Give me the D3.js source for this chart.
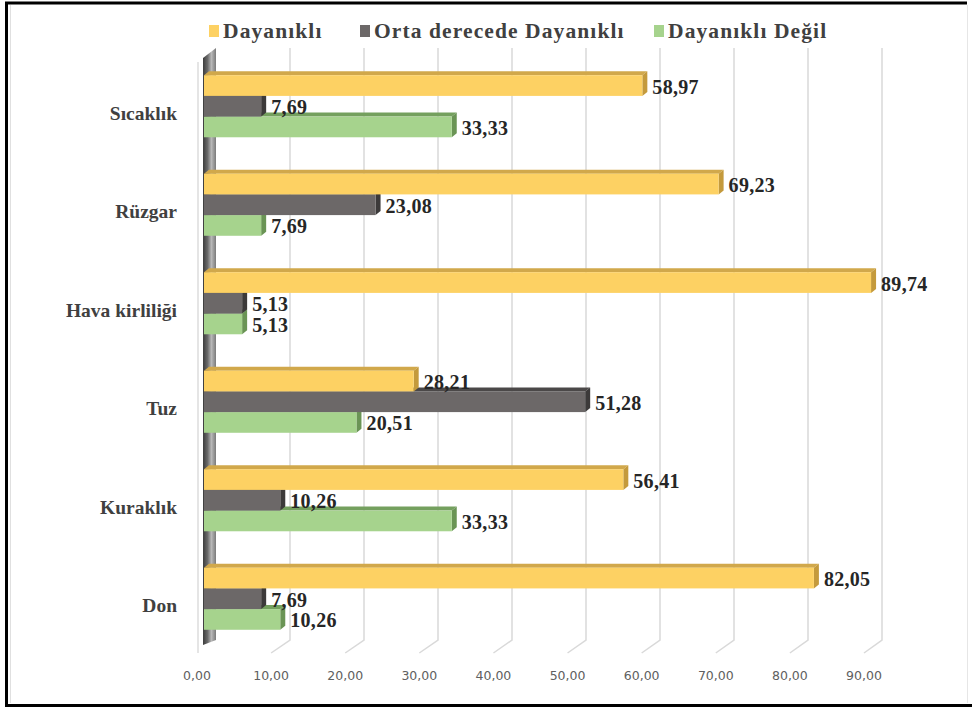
<!DOCTYPE html>
<html><head><meta charset="utf-8">
<script src="https://cdn.jsdelivr.net/npm/d3@7"></script>
<style>html,body{margin:0;padding:0;background:#fff;}svg{display:block;}</style>
</head><body>
<svg id="chart" width="972" height="709"></svg>
<script>
const categories = ["Sıcaklık", "Rüzgar", "Hava kirliliği", "Tuz", "Kuraklık", "Don"];
const seriesNames = ["Dayanıklı", "Orta derecede Dayanıklı", "Dayanıklı Değil"];
const dayanikli = [58.97, 69.23, 89.74, 28.21, 56.41, 82.05];
const ortaDayanikli = [7.69, 23.08, 5.13, 51.28, 10.26, 7.69];
const dayanikliDegil = [33.33, 7.69, 5.13, 20.51, 33.33, 10.26];
const tickValues = [0, 10, 20, 30, 40, 50, 60, 70, 80, 90];
const seriesValues = [dayanikli, ortaDayanikli, dayanikliDegil];

const colors = [
  {front: "#FDD163", top: "#D1A84B", side: "#C49A3C", legend: "#FDD163"},
  {front: "#6C6868", top: "#4B4848", side: "#3C3A3A", legend: "#6C6868"},
  {front: "#A6D38D", top: "#74A05E", side: "#6A9455", legend: "#A6D38D"}
];

const svg = d3.select("#chart");
const defs = svg.append("defs");
const grad = defs.append("linearGradient").attr("id", "wallGrad").attr("x1", "0").attr("x2", "1").attr("y1", "0").attr("y2", "0");
grad.append("stop").attr("offset", "0%").attr("stop-color", "#3c3c3c");
grad.append("stop").attr("offset", "35%").attr("stop-color", "#6a6a6a");
grad.append("stop").attr("offset", "65%").attr("stop-color", "#b8b8b8");
grad.append("stop").attr("offset", "100%").attr("stop-color", "#7a7a7a");

// scales
const xBar = d3.scaleLinear().domain([0, 90]).range([204, 873]);
const xBack = d3.scaleLinear().domain([0, 90]).range([216, 882]);
const xFront = d3.scaleLinear().domain([0, 90]).range([197, 864]);
const yBand = d3.scaleBand().domain(categories).range([57, 648]).paddingInner(0.37).paddingOuter(0.185);
const ySeries = d3.scaleBand().domain(d3.range(seriesNames.length)).range([0, yBand.bandwidth()]);

const wallTop = 48, wallBottom = 640, floorFront = 653;
const dX = 5, dY = 4; // bar depth

// frame
svg.append("path").attr("d", "M967,3 L6.5,3 L6.5,705.5 L972,705.5")
  .attr("fill", "none").attr("stroke", "#000").attr("stroke-width", 3);
svg.append("line").attr("x1", 967.5).attr("x2", 967.5).attr("y1", 5).attr("y2", 703)
  .attr("stroke", "#e6e6e6").attr("stroke-width", 1);
svg.append("line").attr("x1", 10.5).attr("x2", 10.5).attr("y1", 5).attr("y2", 703)
  .attr("stroke", "#e0e0e0").attr("stroke-width", 1);

// gridlines (back wall + floor diagonal)
const grid = svg.append("g");
tickValues.filter(v => v > 0).forEach(v => {
  grid.append("path")
    .attr("d", `M${xBack(v)},${wallTop} L${xBack(v)},${wallBottom} L${xFront(v)},${floorFront}`)
    .attr("fill", "none").attr("stroke", "#d9d9d9").attr("stroke-width", 1.5);
});
grid.append("line").attr("x1", 198).attr("x2", 198).attr("y1", 62).attr("y2", floorFront)
  .attr("stroke", "#dcdcdc").attr("stroke-width", 1.5);

// side wall
svg.append("path")
  .attr("d", `M${xBar(0) - 1},${wallTop + 10} L${xBack(0)},${wallTop} L${xBack(0)},${wallBottom} L${xBar(0) - 1},${floorFront - 8} Z`)
  .attr("fill", "url(#wallGrad)");

// bars
const barsG = svg.append("g");
categories.forEach((c, ci) => {
  for (let si = seriesNames.length - 1; si >= 0; si--) {
    const v = seriesValues[si][ci];
    const y0 = yBand(c) + ySeries(si);
    const h = ySeries.bandwidth();
    const x0 = xBar(0), x1 = xBar(v);
    const g = barsG.append("g");
    g.append("path").attr("d", `M${x0},${y0} L${x0 + dX},${y0 - dY} L${x1 + dX},${y0 - dY} L${x1},${y0} Z`)
      .attr("fill", colors[si].top);
    g.append("path").attr("d", `M${x1},${y0} L${x1 + dX},${y0 - dY} L${x1 + dX},${y0 + h - dY} L${x1},${y0 + h} Z`)
      .attr("fill", colors[si].side);
    g.append("rect").attr("x", x0).attr("y", y0).attr("width", x1 - x0).attr("height", h)
      .attr("fill", colors[si].front);
  }
});

// data labels
const fmt = v => v.toFixed(2).replace(".", ",");
const labelsG = svg.append("g");
categories.forEach((c, ci) => {
  seriesNames.forEach((s, si) => {
    const v = seriesValues[si][ci];
    const y0 = yBand(c) + ySeries(si);
    labelsG.append("text")
      .attr("x", xBar(v) + dX + 5)
      .attr("y", y0 + ySeries.bandwidth() / 2 + 1)
      .attr("dominant-baseline", "central")
      .attr("font-family", "'Liberation Serif', 'Times New Roman', serif")
      .attr("font-weight", "bold").attr("font-size", 20)
      .attr("letter-spacing", 0.3)
      .attr("fill", "#262626")
      .text(fmt(v));
  });
});

// category labels
svg.append("g").selectAll("text").data(categories).join("text")
  .attr("x", 177)
  .attr("y", d => yBand(d) + yBand.bandwidth() / 2 + 7)
  .attr("text-anchor", "end").attr("dominant-baseline", "central")
  .attr("font-family", "'Liberation Serif', 'Times New Roman', serif")
  .attr("font-weight", "bold").attr("font-size", 19.5)
  .attr("fill", "#404040")
  .text(d => d);

// x axis labels
svg.append("g").selectAll("text").data(tickValues).join("text")
  .attr("x", d => xFront(d))
  .attr("y", 675)
  .attr("text-anchor", "middle").attr("dominant-baseline", "central")
  .attr("font-family", "'DejaVu Sans', Verdana, sans-serif")
  .attr("font-size", 12.5)
  .attr("fill", "#606060")
  .text(d => d.toFixed(2).replace(".", ","));

// legend
const legendX = [209, 360, 654];
const leg = svg.append("g");
seriesNames.forEach((s, si) => {
  leg.append("rect").attr("x", legendX[si]).attr("y", 25).attr("width", 10).attr("height", 12)
    .attr("fill", colors[si].legend);
  leg.append("text").attr("x", legendX[si] + 14).attr("y", 31)
    .attr("dominant-baseline", "central")
    .attr("font-family", "'Liberation Serif', 'Times New Roman', serif")
    .attr("font-weight", "bold").attr("font-size", 21.5)
    .attr("letter-spacing", 1.1)
    .attr("fill", "#404040")
    .text(s);
});
</script>
</body></html>
